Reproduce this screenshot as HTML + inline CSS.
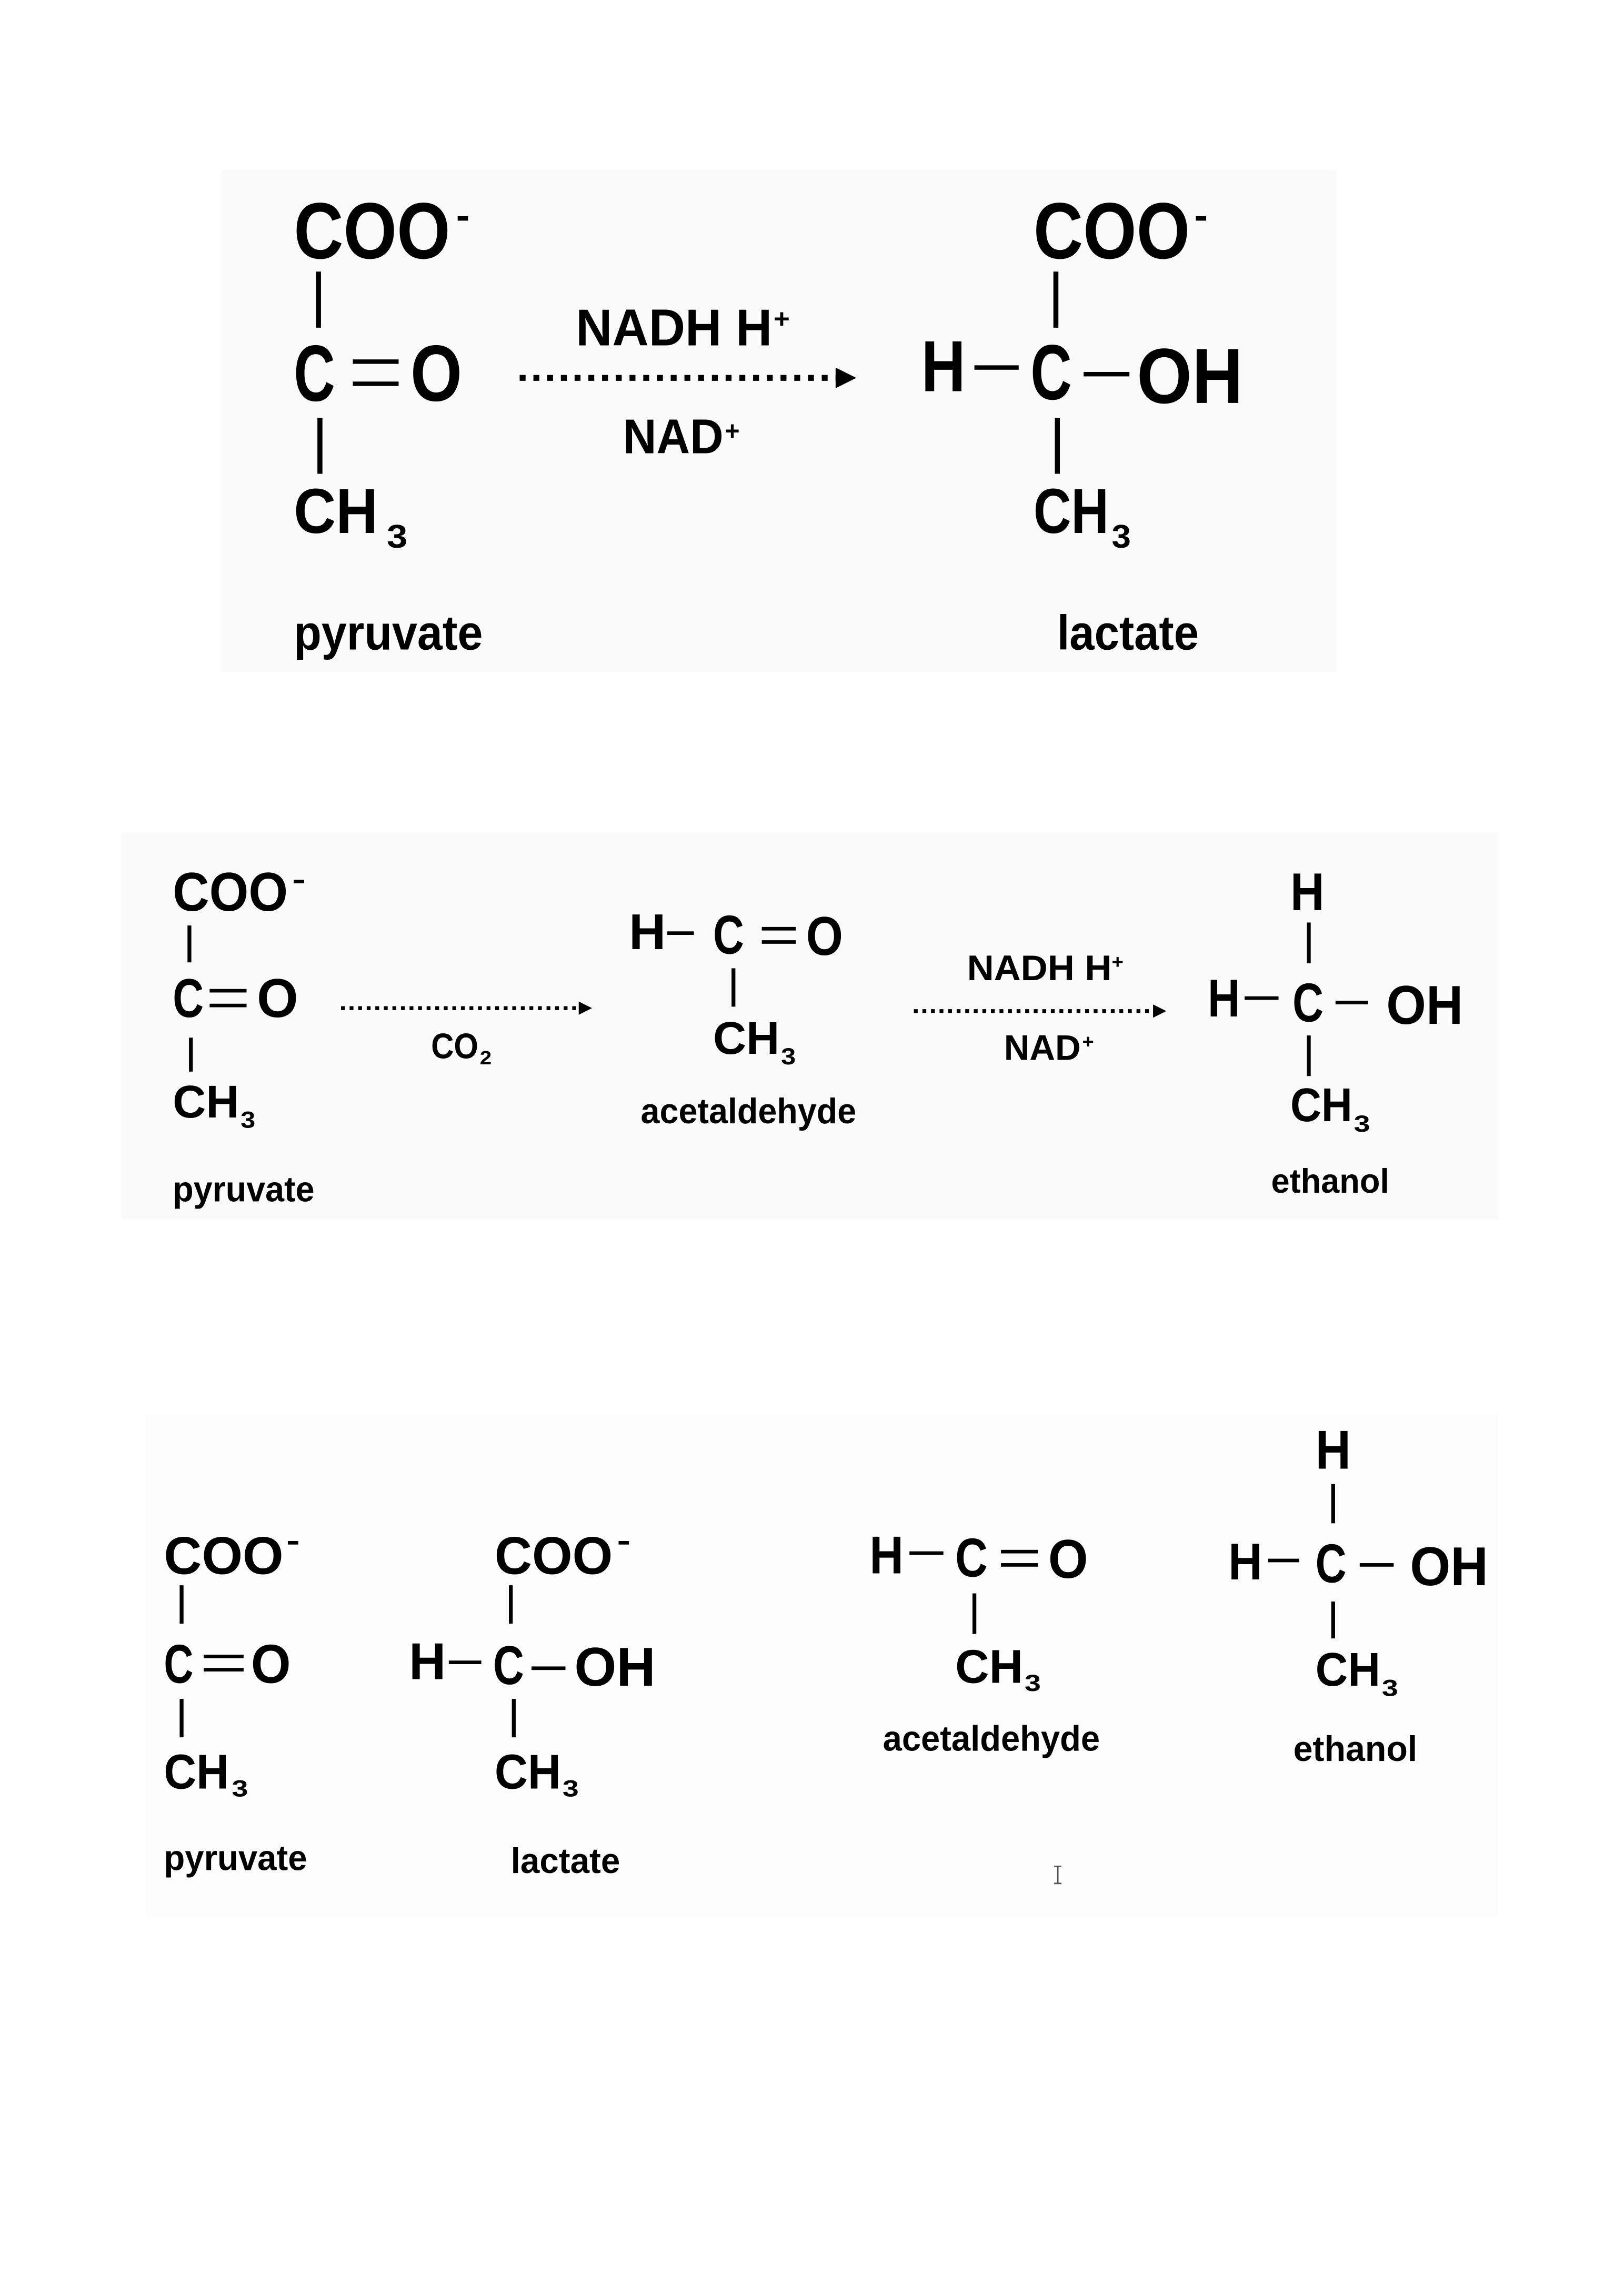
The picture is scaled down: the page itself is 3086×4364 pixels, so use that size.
<!DOCTYPE html>
<html><head><meta charset="utf-8"><style>
html,body{margin:0;padding:0;background:#fff;}
svg{display:block;}
text{font-family:"Liberation Sans",Arial,sans-serif;font-weight:bold;fill:#000;}
</style></head><body>
<svg width="3086" height="4364" viewBox="0 0 1100 1555.5" preserveAspectRatio="none" xmlns="http://www.w3.org/2000/svg">
<rect x="0" y="0" width="1100" height="1555.5" fill="#fff"/>
<rect x="150" y="115" width="755" height="340" fill="#fafafa"/>
<rect x="82" y="564" width="933" height="262" fill="#fafafa"/>
<rect x="99" y="958" width="916" height="340" fill="#fcfcfc"/>

<!-- ===== Section 1 ===== -->
<!-- pyruvate -->
<text x="199" y="175" font-size="54" textLength="106" lengthAdjust="spacingAndGlyphs">COO</text>
<rect x="310" y="146.5" width="7" height="3"/>
<rect x="214" y="184" width="3.4" height="38"/>
<text x="199" y="271.5" font-size="54" textLength="28" lengthAdjust="spacingAndGlyphs">C</text>
<rect x="239" y="243.5" width="31" height="3"/>
<rect x="239" y="258.5" width="31" height="3"/>
<text x="278" y="271.5" font-size="54" textLength="35" lengthAdjust="spacingAndGlyphs">O</text>
<rect x="215" y="283" width="3.4" height="38"/>
<text x="199" y="361" font-size="43" textLength="57" lengthAdjust="spacingAndGlyphs">CH</text>
<text x="262" y="371" font-size="22" textLength="14" lengthAdjust="spacingAndGlyphs">3</text>
<text x="199" y="440" font-size="33" textLength="128" lengthAdjust="spacingAndGlyphs">pyruvate</text>

<!-- arrow 1 -->
<line x1="352" y1="256" x2="566" y2="256" stroke="#000" stroke-width="4" stroke-dasharray="4 5.3"/>
<polygon points="566,249 580,256 566,263" fill="#000"/>
<text x="390" y="234" font-size="35" textLength="133" lengthAdjust="spacingAndGlyphs">NADH H</text>
<text x="524" y="222" font-size="18" textLength="11" lengthAdjust="spacingAndGlyphs">+</text>
<text x="422" y="307" font-size="33" textLength="68" lengthAdjust="spacingAndGlyphs">NAD</text>
<text x="491" y="298" font-size="18" textLength="10" lengthAdjust="spacingAndGlyphs">+</text>

<!-- lactate -->
<text x="700" y="175" font-size="54" textLength="106" lengthAdjust="spacingAndGlyphs">COO</text>
<rect x="810" y="146.5" width="7" height="3"/>
<rect x="713.5" y="184" width="3.4" height="38"/>
<text x="624" y="265" font-size="49" textLength="30" lengthAdjust="spacingAndGlyphs">H</text>
<rect x="660" y="247.5" width="30" height="3"/>
<text x="698" y="270.5" font-size="53" textLength="28" lengthAdjust="spacingAndGlyphs">C</text>
<rect x="734" y="252" width="31" height="3"/>
<text x="770" y="273" font-size="53" textLength="72" lengthAdjust="spacingAndGlyphs">OH</text>
<rect x="714.5" y="283" width="3.4" height="38"/>
<text x="700" y="361" font-size="43" textLength="51" lengthAdjust="spacingAndGlyphs">CH</text>
<text x="753" y="371" font-size="22" textLength="13" lengthAdjust="spacingAndGlyphs">3</text>
<text x="716" y="440" font-size="33" textLength="96" lengthAdjust="spacingAndGlyphs">lactate</text>

<!-- ===== Section 2 ===== -->
<!-- pyruvate -->
<text x="117" y="617" font-size="37" textLength="78" lengthAdjust="spacingAndGlyphs">COO</text>
<rect x="199" y="596" width="7" height="2.4"/>
<rect x="127" y="627" width="2.6" height="25"/>
<text x="117" y="689" font-size="37" textLength="21" lengthAdjust="spacingAndGlyphs">C</text>
<rect x="142" y="670" width="25" height="2.4"/>
<rect x="142" y="680" width="25" height="2.4"/>
<text x="174" y="689" font-size="37" textLength="28" lengthAdjust="spacingAndGlyphs">O</text>
<rect x="128" y="703" width="2.6" height="23"/>
<text x="117" y="757" font-size="31" textLength="45" lengthAdjust="spacingAndGlyphs">CH</text>
<text x="163" y="764" font-size="16" textLength="10" lengthAdjust="spacingAndGlyphs">3</text>
<text x="117" y="814" font-size="24" textLength="96" lengthAdjust="spacingAndGlyphs">pyruvate</text>

<!-- arrow 2a -->
<line x1="231" y1="683" x2="392" y2="683" stroke="#000" stroke-width="2.6" stroke-dasharray="2.6 3.2"/>
<polygon points="392,678.5 401,683 392,687.5" fill="#000"/>
<text x="292" y="717" font-size="24" textLength="32" lengthAdjust="spacingAndGlyphs">CO</text>
<text x="325" y="721" font-size="13" textLength="8" lengthAdjust="spacingAndGlyphs">2</text>

<!-- acetaldehyde -->
<text x="426" y="643" font-size="34" textLength="25" lengthAdjust="spacingAndGlyphs">H</text>
<rect x="452" y="631" width="18" height="2.4"/>
<text x="483" y="646" font-size="37" textLength="21" lengthAdjust="spacingAndGlyphs">C</text>
<rect x="516" y="628" width="23" height="2.4"/>
<rect x="516" y="637" width="23" height="2.4"/>
<text x="546" y="647" font-size="37" textLength="25" lengthAdjust="spacingAndGlyphs">O</text>
<rect x="495.5" y="656" width="2.6" height="26"/>
<text x="483" y="714" font-size="31" textLength="45" lengthAdjust="spacingAndGlyphs">CH</text>
<text x="529" y="721" font-size="16" textLength="10" lengthAdjust="spacingAndGlyphs">3</text>
<text x="434" y="761" font-size="24" textLength="146" lengthAdjust="spacingAndGlyphs">acetaldehyde</text>

<!-- arrow 2b -->
<line x1="619" y1="685" x2="781" y2="685" stroke="#000" stroke-width="2.6" stroke-dasharray="2.6 3.2"/>
<polygon points="781,680.5 790,685 781,689.5" fill="#000"/>
<text x="655" y="664" font-size="24" textLength="98" lengthAdjust="spacingAndGlyphs">NADH H</text>
<text x="753" y="656" font-size="13" textLength="8" lengthAdjust="spacingAndGlyphs">+</text>
<text x="680" y="718" font-size="24" textLength="52" lengthAdjust="spacingAndGlyphs">NAD</text>
<text x="733" y="710" font-size="13" textLength="8" lengthAdjust="spacingAndGlyphs">+</text>

<!-- ethanol -->
<text x="874" y="616.7" font-size="36" textLength="23" lengthAdjust="spacingAndGlyphs">H</text>
<rect x="885.2" y="625" width="2.6" height="27.6"/>
<text x="818" y="688.7" font-size="36" textLength="22" lengthAdjust="spacingAndGlyphs">H</text>
<rect x="843" y="675" width="23" height="2.4"/>
<text x="875.5" y="692" font-size="37" textLength="21" lengthAdjust="spacingAndGlyphs">C</text>
<rect x="904.6" y="678" width="22" height="2.4"/>
<text x="939" y="693.6" font-size="37" textLength="52" lengthAdjust="spacingAndGlyphs">OH</text>
<rect x="885.2" y="701.5" width="2.6" height="27.5"/>
<text x="874" y="759.6" font-size="32" textLength="42" lengthAdjust="spacingAndGlyphs">CH</text>
<text x="917" y="766.7" font-size="16" textLength="11" lengthAdjust="spacingAndGlyphs">3</text>
<text x="861" y="808" font-size="23" textLength="80" lengthAdjust="spacingAndGlyphs">ethanol</text>

<!-- ===== Section 3 ===== -->
<!-- pyruvate -->
<text x="111" y="1066.3" font-size="36" textLength="81" lengthAdjust="spacingAndGlyphs">COO</text>
<rect x="195" y="1044" width="7" height="2.4"/>
<rect x="121.7" y="1074" width="2.6" height="26"/>
<text x="111" y="1140" font-size="37" textLength="20" lengthAdjust="spacingAndGlyphs">C</text>
<rect x="138" y="1121" width="27" height="2.4"/>
<rect x="138" y="1130" width="27" height="2.4"/>
<text x="170" y="1140" font-size="37" textLength="27" lengthAdjust="spacingAndGlyphs">O</text>
<rect x="121.7" y="1151" width="2.6" height="26"/>
<text x="111" y="1211.7" font-size="33" textLength="44" lengthAdjust="spacingAndGlyphs">CH</text>
<text x="157" y="1217" font-size="16" textLength="11" lengthAdjust="spacingAndGlyphs">3</text>
<text x="111" y="1267" font-size="24" textLength="97" lengthAdjust="spacingAndGlyphs">pyruvate</text>

<!-- lactate -->
<text x="335" y="1066.3" font-size="36" textLength="80" lengthAdjust="spacingAndGlyphs">COO</text>
<rect x="419" y="1044" width="7" height="2.4"/>
<rect x="344.7" y="1074" width="2.6" height="26"/>
<text x="277" y="1137.6" font-size="35" textLength="25" lengthAdjust="spacingAndGlyphs">H</text>
<rect x="304" y="1125" width="22" height="2.4"/>
<text x="334" y="1141" font-size="37" textLength="21" lengthAdjust="spacingAndGlyphs">C</text>
<rect x="360" y="1129" width="23" height="2.4"/>
<text x="389" y="1142" font-size="37" textLength="55" lengthAdjust="spacingAndGlyphs">OH</text>
<rect x="346.7" y="1151" width="2.6" height="26"/>
<text x="335" y="1211.7" font-size="33" textLength="45" lengthAdjust="spacingAndGlyphs">CH</text>
<text x="381" y="1217" font-size="16" textLength="11" lengthAdjust="spacingAndGlyphs">3</text>
<text x="346" y="1269" font-size="24" textLength="74" lengthAdjust="spacingAndGlyphs">lactate</text>

<!-- acetaldehyde -->
<text x="589" y="1066" font-size="36" textLength="23" lengthAdjust="spacingAndGlyphs">H</text>
<rect x="616" y="1051" width="23" height="2.4"/>
<text x="647" y="1068" font-size="37" textLength="22" lengthAdjust="spacingAndGlyphs">C</text>
<rect x="678" y="1050" width="25" height="2.4"/>
<rect x="678" y="1059" width="25" height="2.4"/>
<text x="710" y="1069" font-size="37" textLength="27" lengthAdjust="spacingAndGlyphs">O</text>
<rect x="658.7" y="1079.5" width="2.6" height="27.5"/>
<text x="647" y="1140" font-size="32" textLength="46" lengthAdjust="spacingAndGlyphs">CH</text>
<text x="694" y="1145.6" font-size="16" textLength="11" lengthAdjust="spacingAndGlyphs">3</text>
<text x="598" y="1186" font-size="24" textLength="147" lengthAdjust="spacingAndGlyphs">acetaldehyde</text>

<!-- ethanol -->
<text x="891" y="995" font-size="37" textLength="24" lengthAdjust="spacingAndGlyphs">H</text>
<rect x="901.7" y="1005.4" width="2.6" height="26.6"/>
<text x="832" y="1070" font-size="35" textLength="23" lengthAdjust="spacingAndGlyphs">H</text>
<rect x="859" y="1056" width="21" height="2.4"/>
<text x="891" y="1072" font-size="37" textLength="21" lengthAdjust="spacingAndGlyphs">C</text>
<rect x="921" y="1059" width="23" height="2.4"/>
<text x="955" y="1074" font-size="37" textLength="53" lengthAdjust="spacingAndGlyphs">OH</text>
<rect x="901.7" y="1085" width="2.6" height="25"/>
<text x="891" y="1142" font-size="32" textLength="44" lengthAdjust="spacingAndGlyphs">CH</text>
<text x="936" y="1149" font-size="16" textLength="11" lengthAdjust="spacingAndGlyphs">3</text>
<text x="876" y="1193" font-size="24" textLength="84" lengthAdjust="spacingAndGlyphs">ethanol</text>

<!-- I-beam cursor -->
<g stroke="#555" stroke-width="1" fill="none">
<line x1="716.5" y1="1264.5" x2="716.5" y2="1276"/>
<line x1="714" y1="1264.5" x2="719" y2="1264.5"/>
<line x1="714" y1="1276" x2="719" y2="1276"/>
</g>
</svg>
</body></html>
